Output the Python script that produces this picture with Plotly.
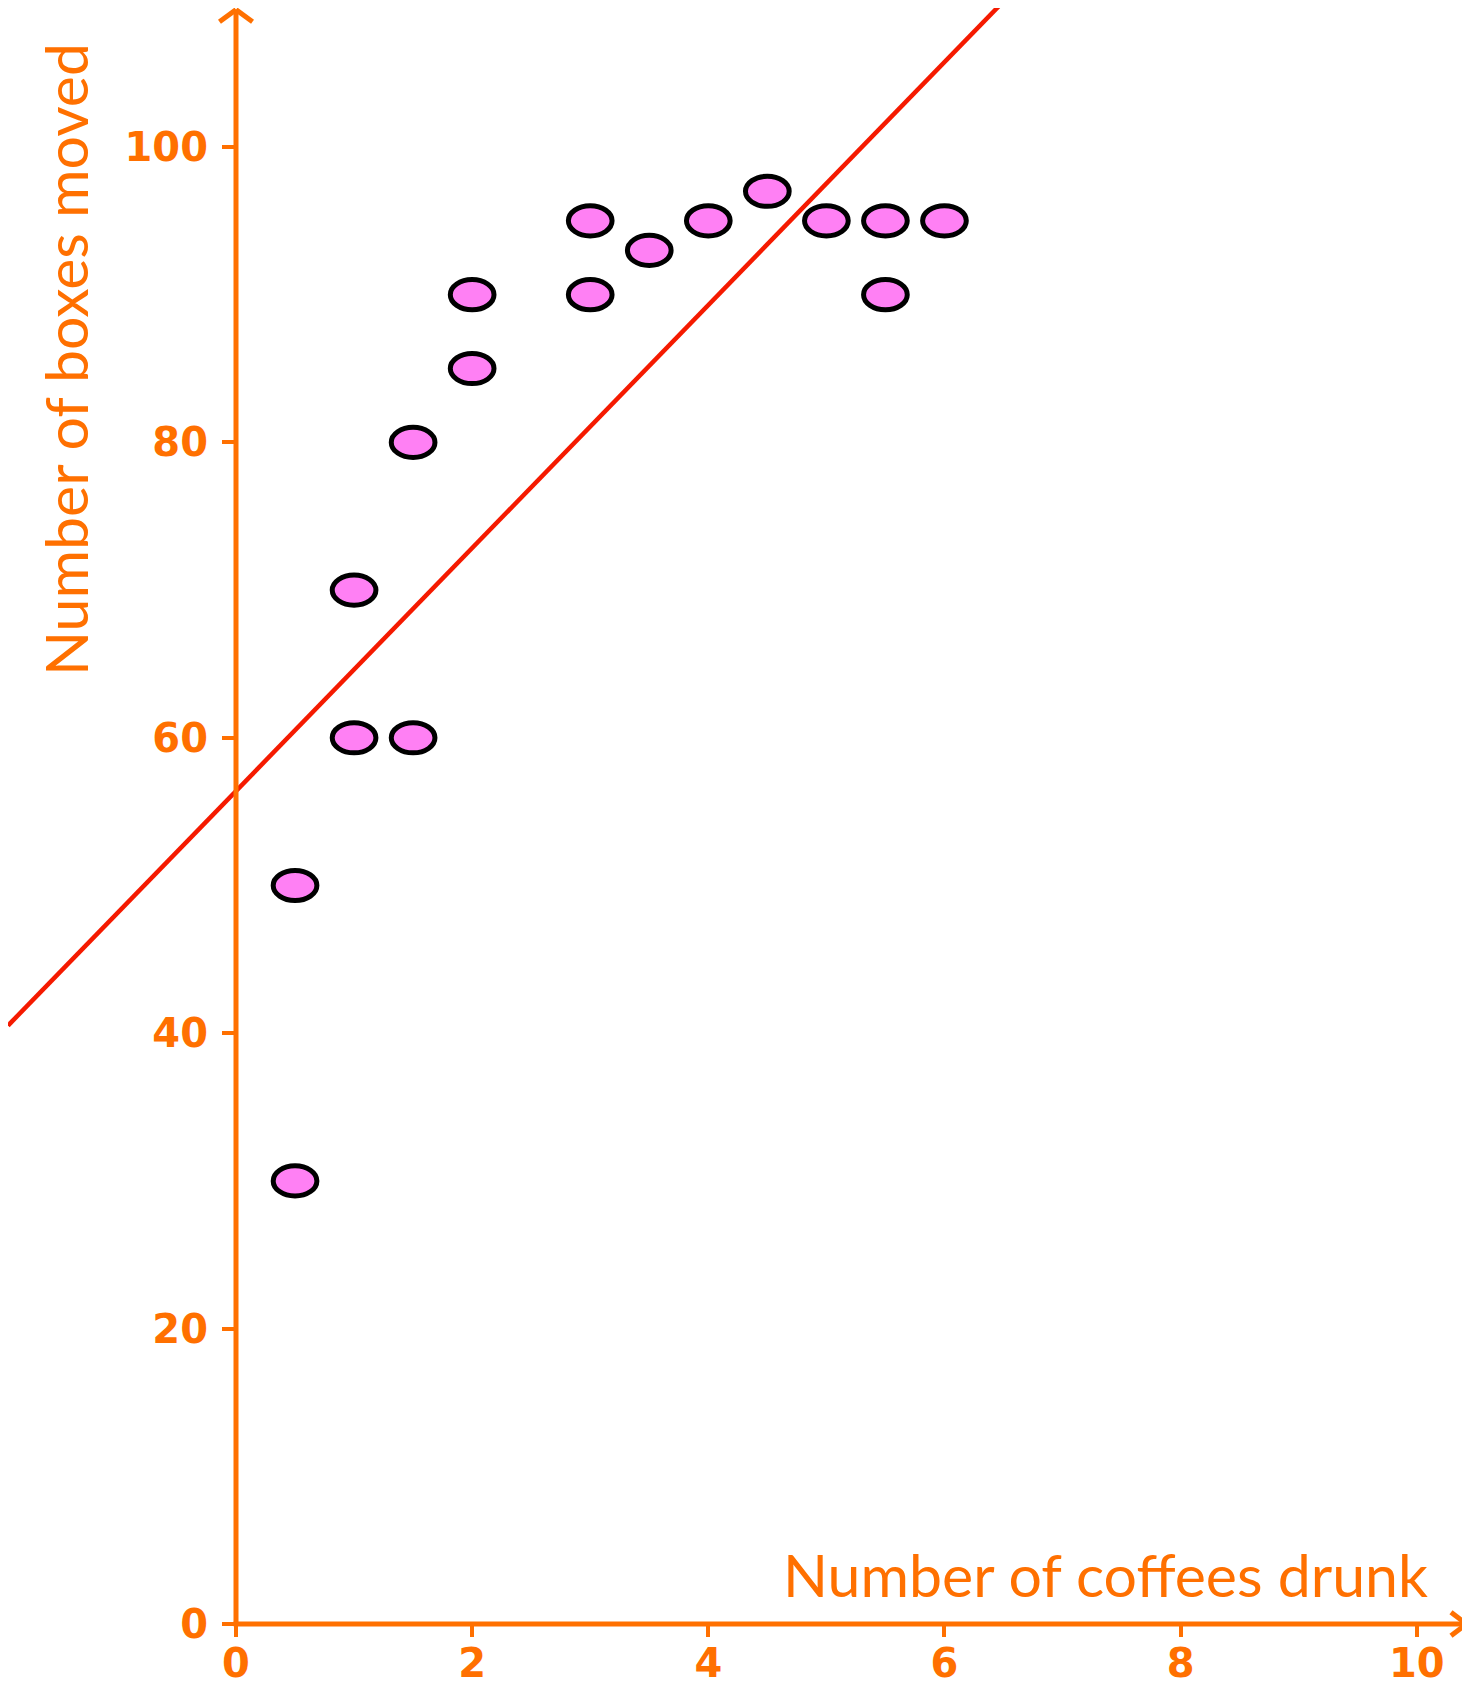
import numpy as np
import plotly.graph_objects as go

# ---- data ----
coffees = [0.5, 0.5, 1, 1, 1.5, 1.5, 2, 2, 3, 3, 3.5, 4, 4.5, 5, 5.5, 5.5, 6]
boxes = [50, 30, 70, 60, 80, 60, 90, 85, 95, 90, 93, 95, 97, 95, 95, 90, 95]
x_ticks = [0, 2, 4, 6, 8, 10]
y_ticks = [0, 20, 40, 60, 80, 100]
x_title = "Number of coffees drunk"
y_title = "Number of boxes moved"

# ---- style ----
ORANGE = "#FF7000"
RED = "#F51A00"
PINK = "#FF80F4"
W, H = 1462, 1690  # page body margin of 8px is added by the browser
X_RANGE = [-1.931, 10.451]
Y_RANGE = [-5.01, 109.41]
TICK_FONT = dict(family="DejaVu Sans", size=40, color=ORANGE, weight="bold")
TITLE_FONT = dict(family="Lato", size=59, color=ORANGE)

# regression line fitted on the points
slope, intercept = np.polyfit(coffees, boxes, 1)
line_x = np.array([X_RANGE[0], 7.0])
line_y = intercept + slope * line_x

fig = go.Figure()
fig.add_trace(go.Scatter(x=line_x, y=line_y, mode="lines",
                         line=dict(color=RED, width=4.5), hoverinfo="skip",
                         showlegend=False))
fig.add_trace(go.Scatter(x=coffees, y=boxes, mode="markers",
                         marker=dict(size=30, opacity=0), showlegend=False,
                         hovertemplate="%{x} coffees: %{y} boxes<extra></extra>"))

# ellipse markers (half width/height in axis units)
ex, ey = 0.185, 1.02
shapes = []
for cx, cy in zip(coffees, boxes):
    shapes.append(dict(type="circle", xref="x", yref="y",
                       x0=cx - ex, x1=cx + ex, y0=cy - ey, y1=cy + ey,
                       fillcolor=PINK, line=dict(color="black", width=5),
                       layer="above"))

# axes lines with open arrow heads
x_tip, y_tip = 10.42, 109.3
axis_line = dict(color=ORANGE, width=5)
shapes += [
    dict(type="line", xref="x", yref="y", x0=-0.02, y0=0, x1=x_tip, y1=0, line=axis_line),
    dict(type="line", xref="x", yref="y", x0=0, y0=-0.05, x1=0, y1=y_tip, line=axis_line),
    dict(type="line", xref="x", yref="y", x0=x_tip - 0.13, y0=0.8, x1=x_tip, y1=0, line=axis_line),
    dict(type="line", xref="x", yref="y", x0=x_tip - 0.13, y0=-0.8, x1=x_tip, y1=0, line=axis_line),
    dict(type="line", xref="x", yref="y", x0=-0.14, y0=y_tip - 0.82, x1=0, y1=y_tip, line=axis_line),
    dict(type="line", xref="x", yref="y", x0=0.14, y0=y_tip - 0.82, x1=0, y1=y_tip, line=axis_line),
]

x_pos = (0 - Y_RANGE[0]) / (Y_RANGE[1] - Y_RANGE[0])
y_pos = (0 - X_RANGE[0]) / (X_RANGE[1] - X_RANGE[0])

fig.update_layout(
    width=W, height=H, autosize=False,
    margin=dict(l=0, r=0, t=0, b=0, pad=0),
    paper_bgcolor="white", plot_bgcolor="white",
    showlegend=False,
    shapes=shapes,
    xaxis=dict(range=X_RANGE, anchor="free", position=x_pos,
               tickmode="array", tickvals=x_ticks, ticktext=[str(v) for v in x_ticks],
               ticks="outside", ticklen=12, tickwidth=4, tickcolor=ORANGE,
               ticklabelstandoff=-8,
               tickfont=TICK_FONT, showgrid=False, zeroline=False, showline=False,
               fixedrange=True),
    yaxis=dict(range=Y_RANGE, anchor="free", position=y_pos,
               tickmode="array", tickvals=y_ticks, ticktext=[str(v) for v in y_ticks],
               ticks="outside", ticklen=14, tickwidth=4, tickcolor=ORANGE,
               ticklabelstandoff=6,
               tickfont=TICK_FONT, showgrid=False, zeroline=False, showline=False,
               fixedrange=True),
    annotations=[
        dict(text=x_title, xref="paper", yref="paper", x=1422 / W, y=1 - 1566 / H,
             xanchor="right", yanchor="middle", showarrow=False, font=TITLE_FONT),
        dict(text=y_title, xref="paper", yref="paper", x=57 / W, y=1 - 352 / H,
             xanchor="center", yanchor="middle", textangle=-90, showarrow=False,
             font=TITLE_FONT),
    ],
)

fig.write_html("out.html")
